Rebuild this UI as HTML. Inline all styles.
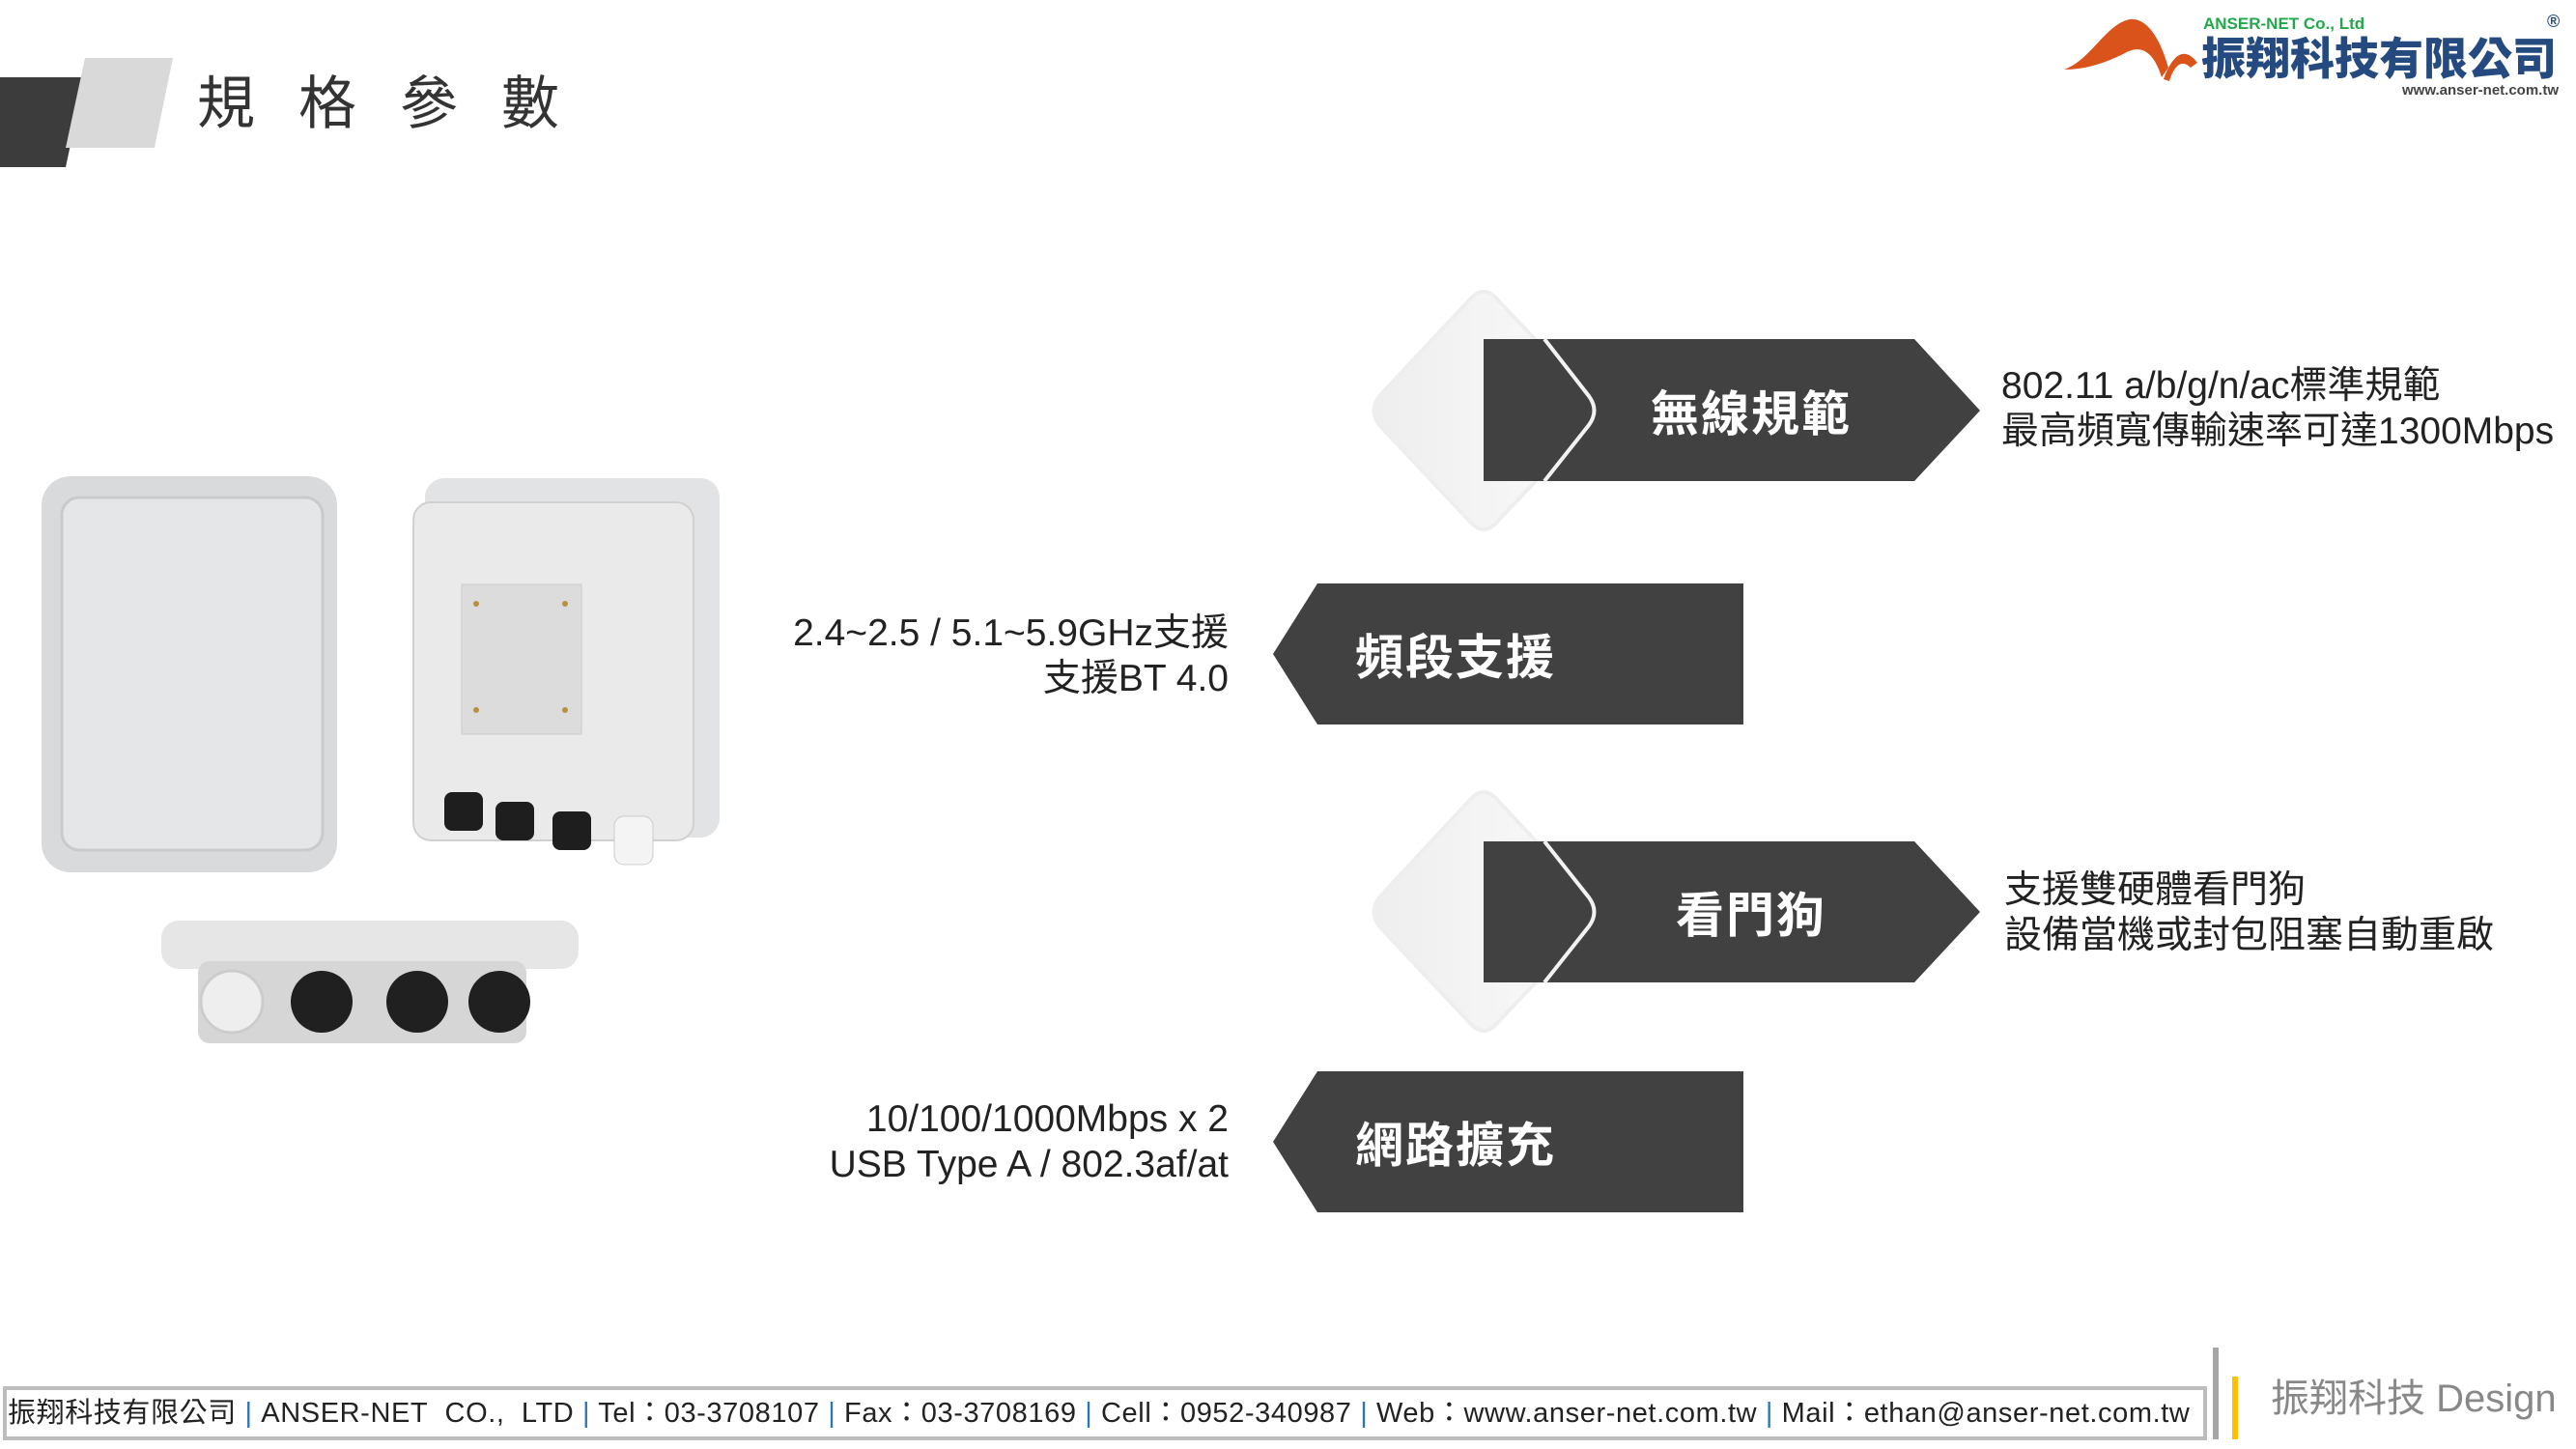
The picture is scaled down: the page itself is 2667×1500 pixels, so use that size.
<!DOCTYPE html>
<html><head><meta charset="utf-8"><style>
body{margin:0;width:2667px;height:1500px;background:#fff;position:relative;overflow:hidden;font-family:"Liberation Sans","Noto Sans CJK TC",sans-serif}
.a{position:absolute;white-space:nowrap}
.lbl{color:#fff;font-size:50px;font-weight:bold;font-family:"Noto Sans CJK TC",sans-serif;letter-spacing:2px}
.t{font-size:39px;color:#222;line-height:47px;font-family:"Liberation Sans","Noto Sans CJK TC",sans-serif}
</style></head><body>
<svg class="a" style="left:0;top:0" width="2667" height="1500">
<defs><linearGradient id="g" x1="0" x2="1"><stop offset="0" stop-color="#eeeeee"/><stop offset="1" stop-color="#fafafa"/></linearGradient></defs>
<polygon points="0,80 88,80 68,173 0,173" fill="#3c3c3c"/>
<polygon points="88,60 179,60 160,153 68,153" fill="#d9d9d9"/>
<path d="M1520,312 Q1536,292 1552,312 L1645,410 Q1656,425 1645,440 L1552,538 Q1536,558 1520,538 L1428,440 Q1417,425 1428,410 Z" fill="url(#g)" stroke="#eeeeee" stroke-width="4"/>
<polygon points="1536,351 1982,351 2050,425 1982,498 1536,498" fill="#414141"/>
<path d="M1599,351 L1645,410 Q1656,425 1645,440 L1599,498" fill="none" stroke="#f2f2f2" stroke-width="4"/>
<path d="M1520,830 Q1536,810 1552,830 L1645,929 Q1656,944 1645,959 L1552,1057 Q1536,1077 1520,1057 L1428,959 Q1417,944 1428,929 Z" fill="url(#g)" stroke="#eeeeee" stroke-width="4"/>
<polygon points="1536,871 1982,871 2050,944 1982,1017 1536,1017" fill="#414141"/>
<path d="M1599,871 L1645,929 Q1656,944 1645,959 L1599,1017" fill="none" stroke="#f2f2f2" stroke-width="4"/>
<polygon points="1318,677 1364,604 1805,604 1805,750 1364,750" fill="#414141"/>
<polygon points="1318,1182 1364,1109 1805,1109 1805,1255 1364,1255" fill="#414141"/>
<rect x="43" y="493" width="306" height="410" rx="30" fill="#d8dadc"/>
<rect x="64" y="515" width="270" height="365" rx="18" fill="#e4e6e8" stroke="#c8cacc" stroke-width="3"/>
<rect x="440" y="495" width="305" height="372" rx="20" fill="#e2e3e4"/>
<rect x="428" y="520" width="290" height="350" rx="18" fill="#eaeaea" stroke="#d0d0d0" stroke-width="2"/>
<rect x="478" y="605" width="124" height="155" fill="#dcdcdc" stroke="#ccc"/>
<circle cx="493" cy="625" r="3" fill="#b8903f"/><circle cx="585" cy="625" r="3" fill="#b8903f"/>
<circle cx="493" cy="735" r="3" fill="#b8903f"/><circle cx="585" cy="735" r="3" fill="#b8903f"/>
<g fill="#1e1e1e"><rect x="460" y="820" width="40" height="40" rx="8"/><rect x="513" y="830" width="40" height="40" rx="8"/><rect x="572" y="840" width="40" height="40" rx="8"/></g>
<rect x="636" y="845" width="40" height="50" rx="10" fill="#f4f4f4" stroke="#ccc"/>
<rect x="167" y="953" width="432" height="50" rx="18" fill="#e6e6e6"/>
<rect x="205" y="995" width="340" height="85" rx="12" fill="#d6d6d6"/>
<circle cx="240" cy="1037" r="32" fill="#eee" stroke="#ccc" stroke-width="3"/>
<circle cx="333" cy="1037" r="32" fill="#202020"/>
<circle cx="432" cy="1037" r="32" fill="#202020"/>
<circle cx="517" cy="1037" r="32" fill="#202020"/>
<rect x="5" y="1437" width="2278" height="52" fill="none" stroke="#bdbdbd" stroke-width="4"/>
<rect x="2291" y="1395" width="6" height="95" fill="#a6a6a6"/>
<rect x="2311" y="1425" width="6" height="65" fill="#ffc000"/>
<path d="M2137,72 C2165,62 2180,25 2205,20 C2225,18 2238,45 2245,70 L2238,80 C2230,55 2218,45 2200,55 C2180,65 2160,72 2137,72 Z" fill="#d9531a"/>
<path d="M2240,82 C2250,55 2262,48 2275,65 L2268,70 C2260,62 2252,65 2246,84 Z" fill="#d9531a"/>
</svg>
<div class="a" style="left:204px;top:68px;font-size:60px;color:#333;letter-spacing:45px;font-family:'Noto Sans CJK TC',sans-serif;line-height:70px">規格參數</div>
<div class="a lbl" style="left:1603px;top:390px;width:420px;text-align:center;line-height:70px">無線規範</div>
<div class="a lbl" style="left:1603px;top:909px;width:420px;text-align:center;line-height:70px">看門狗</div>
<div class="a lbl" style="left:1403px;top:642px;line-height:70px">頻段支援</div>
<div class="a lbl" style="left:1403px;top:1147px;line-height:70px">網路擴充</div>
<div class="a t" style="left:2072px;top:376px">802.11 a/b/g/n/ac標準規範<br>最高頻寬傳輸速率可達1300Mbps</div>
<div class="a t" style="left:2075px;top:898px">支援雙硬體看門狗<br>設備當機或封包阻塞自動重啟</div>
<div class="a t" style="right:1395px;top:632px;text-align:right">2.4~2.5 / 5.1~5.9GHz支援<br>支援BT 4.0</div>
<div class="a t" style="right:1395px;top:1135px;text-align:right">10/100/1000Mbps x 2<br>USB Type A / 802.3af/at</div>
<div class="a" style="left:8px;top:1446px;font-size:29px;color:#222;line-height:34px;letter-spacing:0.6px">振翔科技有限公司 <span style="color:#2e75b6">|</span> ANSER-NET&nbsp; CO.,&nbsp; LTD <span style="color:#2e75b6">|</span> Tel：03-3708107 <span style="color:#2e75b6">|</span> Fax：03-3708169 <span style="color:#2e75b6">|</span> Cell：0952-340987 <span style="color:#2e75b6">|</span> Web：www.anser-net.com.tw <span style="color:#2e75b6">|</span> Mail：ethan@anser-net.com.tw</div>
<div class="a" style="left:2351px;top:1424px;font-size:40px;color:#888;line-height:48px">振翔科技 Design</div>
<div class="a" style="left:2281px;top:15px;font-size:17px;font-weight:bold;color:#22a84a">ANSER-NET Co., Ltd</div>
<div class="a" style="left:2637px;top:12px;font-size:18px;font-weight:bold;color:#2a4a7a">®</div>
<div class="a" style="left:2279px;top:30px;font-size:46px;font-weight:900;color:#254a80;font-family:'Noto Sans CJK TC',sans-serif;line-height:56px">振翔科技有限公司</div>
<div class="a" style="right:18px;top:85px;font-size:15px;font-weight:bold;color:#444">www.anser-net.com.tw</div>
</body></html>
